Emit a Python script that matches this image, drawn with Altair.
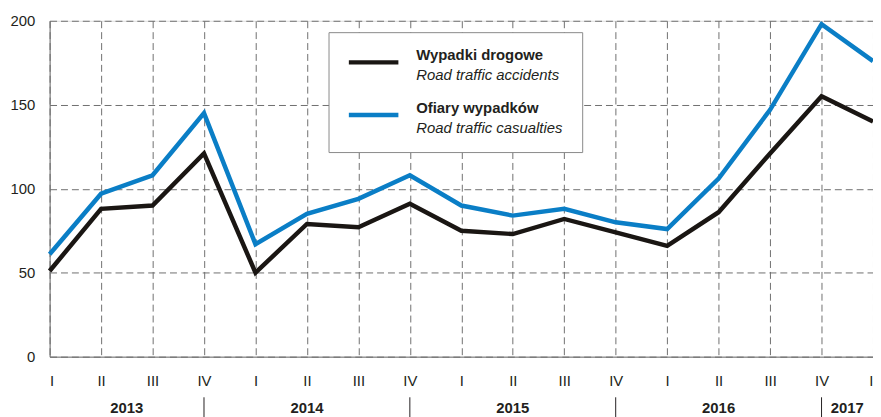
import altair as alt
import pandas as pd

# ---- data ----
quarters = ["I", "II", "III", "IV"] * 4 + ["I"]
years = ["2013"] * 4 + ["2014"] * 4 + ["2015"] * 4 + ["2016"] * 4 + ["2017"]
accidents = [51, 88, 90, 121, 50, 79, 77, 91, 75, 73, 82, 74, 66, 86, 121, 155, 140]
casualties = [61, 97, 108, 145, 67, 85, 94, 108, 90, 84, 88, 80, 76, 106, 147, 198, 176]

series_pl = ["Wypadki drogowe", "Ofiary wypadków"]
series_en = ["Road traffic accidents", "Road traffic casualties"]
series_colors = ["#1a1613", "#0a7ec6"]
y_ticks = [0, 50, 100, 150, 200]

FONT = "Liberation Sans, Arial, Helvetica, sans-serif"
idx = list(range(len(quarters)))
last = idx[-1]

rows = []
for i in idx:
    rows.append({"idx": i, "q": quarters[i], "value": accidents[i], "series": series_pl[0]})
    rows.append({"idx": i, "q": quarters[i], "value": casualties[i], "series": series_pl[1]})
df = pd.DataFrame(rows)

# year groups: separators under each year's last quarter (IV)
seps = [i for i, q in enumerate(quarters) if q == "IV"]
bounds = [0] + seps + [last]
uniq_years = list(dict.fromkeys(years))
centers = [(bounds[k] + bounds[k + 1]) / 2 for k in range(len(uniq_years))]
df_years = pd.DataFrame({"center": centers, "year": uniq_years})
df_seps = pd.DataFrame({"sep": seps})

xscale = alt.Scale(domain=[0, last], nice=False, zero=False)
yscale = alt.Scale(domain=[0, 200], nice=False)

label_expr = "['I','II','III','IV'][datum.value % 4]"
x_axis = alt.Axis(values=idx, labelExpr=label_expr, grid=True, gridDash=[7, 4],
                  gridColor="#6f6f6f", gridWidth=1, ticks=False, domain=True,
                  domainColor="#6d6d6d", labelPadding=17, labelFont=FONT,
                  labelFontSize=15, labelColor="#231f20", labelFlush=True,
                  labelOverlap=False, title=None)

lines = alt.Chart(df).mark_line(strokeWidth=4.5, strokeJoin="miter").encode(
    x=alt.X("idx:Q", scale=xscale, title=None, axis=x_axis),
    y=alt.Y("value:Q", scale=yscale, title=None,
            axis=alt.Axis(values=y_ticks, grid=True, gridDash=[7, 4], gridColor="#6f6f6f",
                          gridWidth=1, ticks=False, domainColor="#6d6d6d", labelPadding=15,
                          labelFont=FONT, labelFontSize=15, labelColor="#231f20")),
    color=alt.Color("series:N", scale=alt.Scale(domain=series_pl, range=series_colors), legend=None),
    order=alt.Order("idx:Q"),
)

year_text = alt.Chart(df_years).mark_text(
    font=FONT, fontSize=15, fontWeight="bold", color="#231f20", align="center", baseline="alphabetic"
).encode(
    x=alt.X("center:Q", scale=xscale, title=None, axis=x_axis),
    y=alt.value(396),
    text="year:N",
)

sep_rules = alt.Chart(df_seps).mark_rule(color="#231f20", strokeWidth=1).encode(
    x=alt.X("sep:Q", scale=xscale, title=None, axis=x_axis),
    y=alt.value(380),
    y2=alt.value(400),
)

# ---- manual legend ----
legend_box = alt.Chart(pd.DataFrame({"k": [0]})).mark_rect(
    fill="white", stroke="#8a8a8a", strokeWidth=1
).encode(x=alt.value(282), x2=alt.value(538), y=alt.value(12), y2=alt.value(133))

legend_layers = [legend_box]
row_y = [42, 95]
for k in range(len(series_pl)):
    dk = pd.DataFrame({"pl": [series_pl[k]], "en": [series_en[k]]})
    base = alt.Chart(dk)
    legend_layers.append(
        base.mark_rule(strokeWidth=4.5, color=series_colors[k]).encode(
            x=alt.value(302), x2=alt.value(352), y=alt.value(row_y[k]))
    )
    legend_layers.append(
        base.mark_text(font=FONT, fontSize=15, fontWeight="bold", color="#231f20",
                       align="left", baseline="alphabetic").encode(
            x=alt.value(370), y=alt.value(row_y[k] - 2), text="pl:N")
    )
    legend_layers.append(
        base.mark_text(font=FONT, fontSize=15, fontStyle="italic", color="#231f20",
                       align="left", baseline="alphabetic").encode(
            x=alt.value(370), y=alt.value(row_y[k] + 18), text="en:N")
    )

chart = alt.layer(lines, sep_rules, year_text, *legend_layers).properties(
    width=831, height=339,
    autosize=alt.AutoSizeParams(type="none"),
    padding={"left": 42, "top": 11, "right": 0, "bottom": 59},
).configure_view(stroke="#9a9a9a", strokeWidth=1).configure(background="white")

chart.save("out.html", embed_options={"renderer": "svg", "actions": False})
